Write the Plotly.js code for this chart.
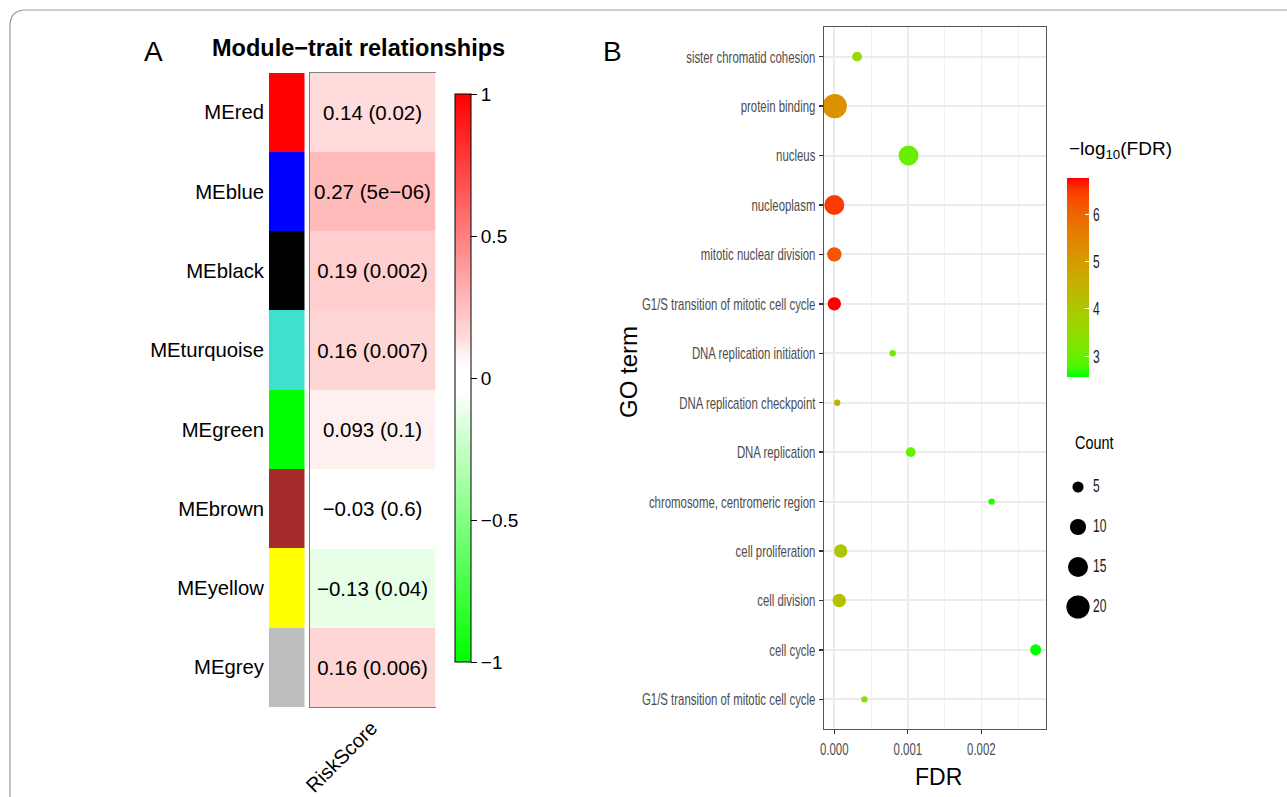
<!DOCTYPE html>
<html>
<head>
<meta charset="utf-8">
<script src="https://cdn.plot.ly/plotly-3.0.1.min.js"></script>
<style>html,body{margin:0;padding:0;background:#fff;}#chart{width:1287px;height:797px;}</style>
</head>
<body>
<div id="chart"></div>
<script>
// ---------- Panel A data ----------
const modules = ['MEred','MEblue','MEblack','MEturquoise','MEgreen','MEbrown','MEyellow','MEgrey'];
const moduleColors = ['#FF0000','#0000FF','#000000','#40E0D0','#00FF00','#A52A2A','#FFFF00','#BEBEBE'];
const traitName = ['RiskScore'];
const corr = [0.14, 0.27, 0.19, 0.16, 0.093, -0.03, -0.13, 0.16];
const cellText = ['0.14 (0.02)','0.27 (5e\u221206)','0.19 (0.002)','0.16 (0.007)','0.093 (0.1)','\u22120.03 (0.6)','\u22120.13 (0.04)','0.16 (0.006)'];
const corrTickVals = [-1, -0.5, 0, 0.5, 1];
const corrTickText = ['\u22121','\u22120.5','0','0.5','1'];

// ---------- Panel B data ----------
const goTerms = ['sister chromatid cohesion','protein binding','nucleus','nucleoplasm','mitotic nuclear division',
  'G1/S transition of mitotic cell cycle','DNA replication initiation','DNA replication checkpoint','DNA replication',
  'chromosome, centromeric region','cell proliferation','cell division','cell cycle','G1/S transition of mitotic cell cycle'];
const fdr = [0.00031, 0.0000063, 0.00101, 0.0000003, 0.0000006, 0.00000017, 0.000795, 0.00004, 0.00104, 0.00214, 0.000087, 0.000068, 0.00274, 0.00041];
const negLog10FDR = [3.51, 5.2, 3.0, 6.5, 6.2, 6.77, 3.1, 4.4, 2.98, 2.67, 4.06, 4.17, 2.56, 3.39];
const counts = [4, 22, 15, 15, 8, 7, 2, 2, 4, 2, 7, 7, 5, 2];
const fdrTickVals = [0, 0.001, 0.002];
const fdrTickText = ['0.000','0.001','0.002'];
const colorTickVals = [3, 4, 5, 6];
const countLegend = [5, 10, 15, 20];

// ---------- helpers (styling only) ----------
const W = 1287, H = 797;
const fx = p => p / W;
const fy = p => 1 - p / H;
const sizeOf = c => Math.sqrt(Math.max(4, -15 + 27.7 * c));

function lab2rgb(L, a, b) {
  const fyv = (L + 16) / 116, fxv = fyv + a / 500, fzv = fyv - b / 200;
  const f = t => (t * t * t > 0.008856) ? t * t * t : (t - 16 / 116) / 7.787;
  const X = 0.95047 * f(fxv), Y = f(fyv), Z = 1.08883 * f(fzv);
  let r = 3.2406 * X - 1.5372 * Y - 0.4986 * Z;
  let g = -0.9689 * X + 1.8758 * Y + 0.0415 * Z;
  let bb = 0.0557 * X - 0.2040 * Y + 1.0570 * Z;
  const gm = c => { c = c <= 0.0031308 ? 12.92 * c : 1.055 * Math.pow(c, 1 / 2.4) - 0.055; return Math.round(Math.min(1, Math.max(0, c)) * 255); };
  return 'rgb(' + gm(r) + ',' + gm(g) + ',' + gm(bb) + ')';
}
const labLow = [87.73, -86.18, 83.18], labHigh = [53.24, 80.09, 67.20];
const greenRed = [];
for (let i = 0; i <= 20; i++) {
  const t = i / 20;
  greenRed.push([t, lab2rgb(labLow[0] + (labHigh[0] - labLow[0]) * t, labLow[1] + (labHigh[1] - labLow[1]) * t, labLow[2] + (labHigh[2] - labLow[2]) * t)]);
}
const greenWhiteRed = [
  [0, '#00FF00'], [0.43, 'rgb(226,255,226)'], [0.45, 'rgb(240,255,240)'], [0.48, '#FFFFFF'],
  [0.52, '#FFFFFF'], [0.55, 'rgb(255,238,238)'], [0.57, 'rgb(255,219,219)'], [1, '#FF0000']
];

const rowPos = goTerms.map((_, i) => goTerms.length - i);
const fontA = 'Liberation Sans, Arial, sans-serif';

const traces = [
  {
    type: 'bar', orientation: 'h', x: modules.map(() => 1), y: modules, width: 1,
    marker: {color: moduleColors, line: {width: 0}}, xaxis: 'x', yaxis: 'y', hoverinfo: 'y', showlegend: false
  },
  {
    type: 'heatmap', x: traitName, y: modules, z: corr.map(v => [v]), text: cellText.map(t => [t]),
    texttemplate: '%{text}', textfont: {family: fontA, size: 20.5, color: '#000'},
    zmin: -1, zmax: 1, colorscale: greenWhiteRed,
    xaxis: 'x2', yaxis: 'y2', xgap: 0, ygap: 0,
    colorbar: {
      x: fx(455), xanchor: 'left', y: fy(94), yanchor: 'top', len: (662 - 94) / H, lenmode: 'fraction',
      thickness: 16, thicknessmode: 'pixels', xpad: 0, ypad: 0, outlinecolor: '#000', outlinewidth: 1,
      tickvals: corrTickVals, ticktext: corrTickText, ticks: 'outside', ticklen: 6, tickcolor: '#000',
      tickfont: {family: fontA, size: 19, color: '#000'}
    }
  },
  {
    type: 'scatter', mode: 'markers', x: fdr, y: rowPos, xaxis: 'x3', yaxis: 'y3', showlegend: false,
    text: goTerms,
    marker: {
      size: counts.map(sizeOf), sizemode: 'diameter', color: negLog10FDR, colorscale: greenRed,
      line: {width: 0}, opacity: 1,
      colorbar: {
        x: fx(1067), xanchor: 'left', y: fy(178), yanchor: 'top', len: (377 - 178) / H, lenmode: 'fraction',
        thickness: 22, thicknessmode: 'pixels', xpad: 0, ypad: 0, outlinewidth: 0,
        tickvals: colorTickVals, ticks: 'inside', ticklen: 4, tickcolor: '#FFFFFF', tickwidth: 1,
        tickfont: {family: fontA, size: 18, color: '#1a1a1a'}
      }
    }
  },
  {
    type: 'scatter', mode: 'markers', x: countLegend.map(() => 15), y: countLegend.map((_, i) => i + 1),
    xaxis: 'x4', yaxis: 'y4', showlegend: false, hoverinfo: 'skip', cliponaxis: false,
    marker: {size: countLegend.map(sizeOf), sizemode: 'diameter', color: '#000000', opacity: 1, line: {width: 0}}
  },
  {
    type: 'scatter', mode: 'text', x: countLegend.map(() => 30), y: countLegend.map((_, i) => i + 1),
    text: countLegend.map(String), textposition: 'middle right', cliponaxis: false,
    textfont: {family: fontA, size: 18, color: '#1a1a1a'},
    xaxis: 'x4', yaxis: 'y4', showlegend: false, hoverinfo: 'skip'
  }
];

const layout = {
  width: W, height: H, margin: {l: 0, r: 0, t: 0, b: 0}, paper_bgcolor: '#fff', plot_bgcolor: 'rgba(0,0,0,0)',
  showlegend: false, bargap: 0,
  font: {family: fontA, color: '#000'},
  xaxis: {domain: [fx(269), fx(304.5)], range: [0, 1], showgrid: false, zeroline: false, showticklabels: false, fixedrange: true},
  yaxis: {domain: [fy(707), fy(72.5)], type: 'category', categoryorder: 'array', categoryarray: modules, autorange: 'reversed',
    showgrid: false, zeroline: false, ticks: '', tickfont: {family: fontA, size: 20.3, color: '#000'}, ticklabelstandoff: 4},
  xaxis2: {domain: [fx(309.5), fx(435.5)], anchor: 'y2', showgrid: false, zeroline: false, showline: true, mirror: true,
    linecolor: '#808080', linewidth: 1, ticks: '', showticklabels: false},
  yaxis2: {domain: [fy(707), fy(72.5)], anchor: 'x2', type: 'category', categoryorder: 'array', categoryarray: modules, autorange: 'reversed',
    showgrid: false, zeroline: false, showticklabels: false, ticks: '', showline: true, linecolor: '#808080', linewidth: 1},
  xaxis3: {domain: [fx(824), fx(1046)], anchor: 'y3', range: [-0.00014, 0.00288], tickvals: fdrTickVals, ticktext: fdrTickText,
    showgrid: true, gridcolor: '#EBEBEB', gridwidth: 1.6, zeroline: false,
    minor: {dtick: 0.0005, tick0: 0, showgrid: true, gridcolor: '#F2F2F2', gridwidth: 1},
    showline: true, mirror: true, linecolor: '#555', linewidth: 1.2,
    ticks: 'outside', ticklen: 4, tickwidth: 1.2, tickcolor: '#333',
    tickfont: {family: fontA, size: 17, color: '#4D4D4D'}},
  yaxis3: {domain: [fy(729), fy(27)], anchor: 'x3', range: [0.4, goTerms.length + 0.6], tickvals: rowPos, ticktext: goTerms,
    showgrid: true, gridcolor: '#EBEBEB', gridwidth: 2, zeroline: false,
    showline: true, mirror: true, linecolor: '#555', linewidth: 1.2,
    ticks: 'outside', ticklen: 4, tickwidth: 1.5, tickcolor: '#333',
    tickfont: {family: fontA, size: 17, color: '#4D4D4D'}},
  xaxis4: {domain: [fx(1063), fx(1123)], anchor: 'y4', range: [0, 60], visible: false, fixedrange: true},
  yaxis4: {domain: [fy(627), fy(467)], anchor: 'x4', range: [4.5, 0.5], visible: false, fixedrange: true},
  annotations: [
    {text: 'A', x: fx(153), y: fy(52), xref: 'paper', yref: 'paper', xanchor: 'center', yanchor: 'middle', showarrow: false, font: {family: fontA, size: 28, color: '#000'}},
    {text: 'B', x: fx(612), y: fy(52), xref: 'paper', yref: 'paper', xanchor: 'center', yanchor: 'middle', showarrow: false, font: {family: fontA, size: 28, color: '#000'}},
    {text: '<b>Module\u2212trait relationships</b>', x: fx(359), y: fy(48), xref: 'paper', yref: 'paper', xanchor: 'center', yanchor: 'middle', showarrow: false,
      font: {family: fontA, size: 23.5, color: '#000'}},
    {text: traitName[0], x: fx(341), y: fy(757), xref: 'paper', yref: 'paper', xanchor: 'center', yanchor: 'middle', showarrow: false, textangle: -45,
      font: {family: fontA, size: 20, color: '#000'}},
    {text: 'GO term', x: fx(628), y: fy(372), xref: 'paper', yref: 'paper', xanchor: 'center', yanchor: 'middle', showarrow: false, textangle: -90,
      font: {family: fontA, size: 24, color: '#000'}},
    {text: 'FDR', x: fx(938), y: fy(777), xref: 'paper', yref: 'paper', xanchor: 'center', yanchor: 'middle', showarrow: false,
      font: {family: fontA, size: 23, color: '#000'}},
    {text: 'Count', x: fx(1067), y: fy(442), xref: 'paper', yref: 'paper', xanchor: 'left', yanchor: 'middle', showarrow: false,
      font: {family: fontA, size: 19, color: '#000'}},
    {text: '\u2212log<sub>10</sub>(FDR)', x: fx(1067), y: fy(150), xref: 'paper', yref: 'paper', xanchor: 'left', yanchor: 'middle', showarrow: false,
      font: {family: fontA, size: 19, color: '#000'}}
  ],
  shapes: [
    {type: 'path', xref: 'paper', yref: 'paper',
      path: 'M ' + fx(10) + ',' + fy(805) + ' L ' + fx(10) + ',' + fy(26) + ' Q ' + fx(10) + ',' + fy(10) + ' ' + fx(26) + ',' + fy(10) + ' L ' + fx(1295) + ',' + fy(10),
      line: {color: '#9A9A9A', width: 1.2}}
  ]
};

Plotly.newPlot('chart', traces, layout, {staticPlot: true, displayModeBar: false}).then(gd => {
  // Panel B of the reference uses horizontally condensed lettering: squeeze those labels.
  const squeeze = (els, f) => els.forEach(t => {
    const w = t.getComputedTextLength();
    if (w > 0) { t.setAttribute('textLength', (w * f).toFixed(1)); t.setAttribute('lengthAdjust', 'spacingAndGlyphs'); }
  });
  squeeze(Array.from(gd.querySelectorAll('.y3tick text')), 0.67);
  squeeze(Array.from(gd.querySelectorAll('.x3tick text')), 0.67);
  squeeze(Array.from(gd.querySelectorAll('.textpoint text')), 0.67);
  gd.querySelectorAll('.colorbar').forEach(cb => {
    const r = cb.getBoundingClientRect();
    if (r.left > 1000) squeeze(Array.from(cb.querySelectorAll('text')), 0.67);
  });
  gd.querySelectorAll('.annotation-text').forEach(t => {
    if (t.textContent === 'Count') squeeze([t], 0.76);
  });
});
</script>
</body>
</html>
